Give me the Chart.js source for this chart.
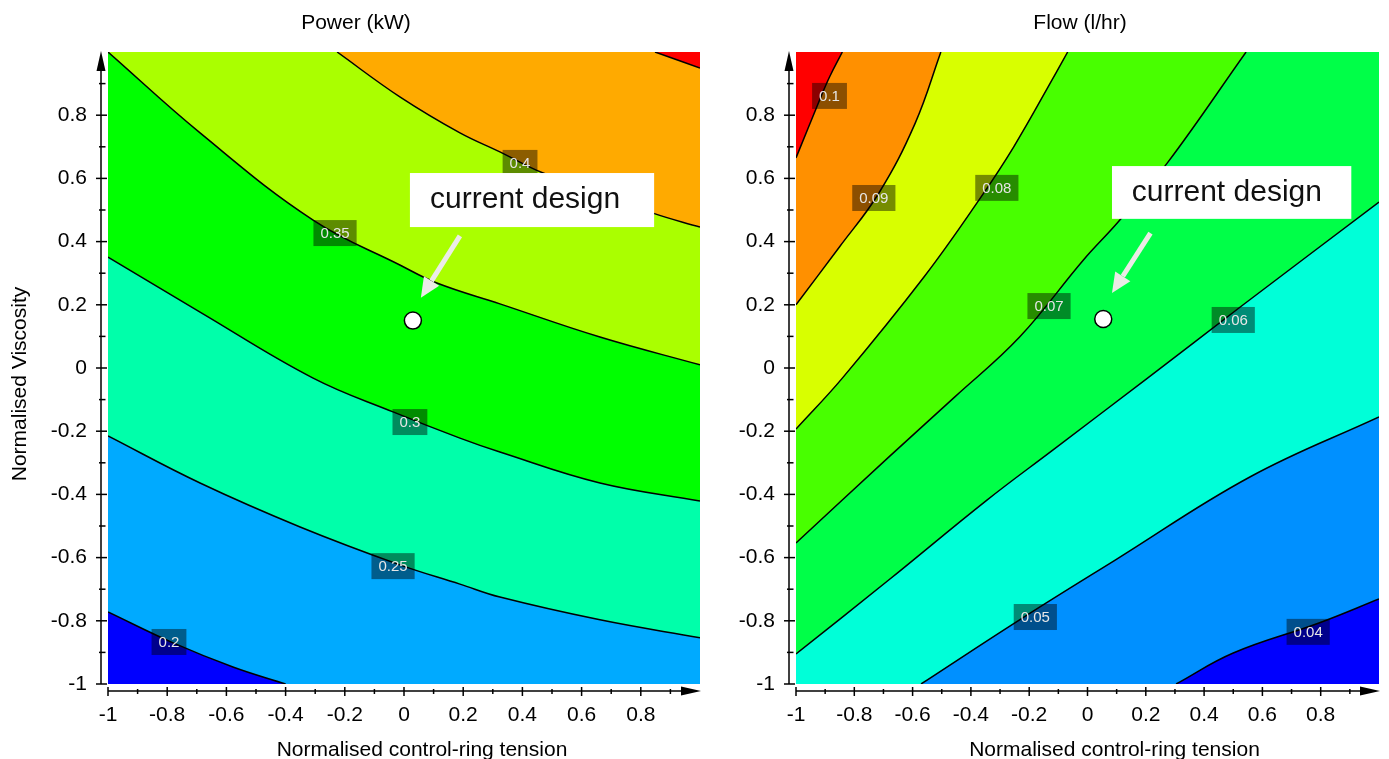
<!DOCTYPE html>
<html>
<head>
<meta charset="utf-8">
<title>Power / Flow contour maps</title>
<script src="https://cdn.jsdelivr.net/npm/chart.js@4.4.1/dist/chart.umd.min.js"></script>
<style>
    html, body { margin: 0; padding: 0; background: #fff; overflow: hidden; }
    .panel { position: absolute; top: 0; height: 759px; }
    #powerPanel { left: 0; width: 710px; }
    #flowPanel { left: 710px; width: 679px; }
</style>
</head>
<body>
<div class="panel" id="powerPanel"><canvas id="powerChart"></canvas></div>
<div class="panel" id="flowPanel"><canvas id="flowChart"></canvas></div>
<script>
"use strict";

const FONT_FAMILY = "'Liberation Sans', Arial, Helvetica, sans-serif";

/* axis ticks (both axes, both panels) */
const axisTicks = [-1, -0.8, -0.6, -0.4, -0.2, 0, 0.2, 0.4, 0.6, 0.8];
const axisMinorTicks = [-0.9, -0.7, -0.5, -0.3, -0.1, 0.1, 0.3, 0.5, 0.7, 0.9];

/* Power (kW): contour lines, [control-ring tension, viscosity] */
const power020 = [[-1, -0.772], [-0.78, -0.87], [-0.578, -0.946], [-0.4, -1]];
const power025 = [[-1, -0.215], [-0.689, -0.364], [-0.351, -0.503], [-0.014, -0.623], [0.189, -0.684], [0.324, -0.725], [0.662, -0.797], [1, -0.854]];
const power030 = [[-1, 0.351], [-0.689, 0.177], [-0.307, -0.032], [-0.037, -0.139], [0.189, -0.222], [0.324, -0.266], [0.662, -0.364], [1, -0.421]];
const power035 = [[-1, 1], [-0.689, 0.744], [-0.307, 0.468], [-0.014, 0.326], [0.111, 0.269], [0.324, 0.203], [0.662, 0.098], [1, 0.01]];
const power040 = [[-0.226, 1], [-0.014, 0.858], [0.189, 0.744], [0.324, 0.684], [0.47, 0.617], [0.841, 0.49], [1, 0.446]];
const power045 = [[0.848, 1], [1, 0.949]];
const powerLabelText = ["0.2", "0.25", "0.3", "0.35", "0.4"];
const powerLabelX = [-0.794, -0.037, 0.02, -0.233, 0.392];
const powerLabelY = [-0.867, -0.627, -0.171, 0.427, 0.649];
const powerDesign = [0.03, 0.15];

/* Flow (l/hr): contour lines */
const flow004 = [[0.304, -1], [0.5, -0.902], [0.794, -0.807], [1, -0.731]];
const flow005 = [[-0.571, -1], [-0.233, -0.797], [0.095, -0.608], [0.557, -0.345], [1, -0.155]];
const flow006 = [[-1, -0.905], [-0.682, -0.671], [-0.345, -0.418], [-0.118, -0.259], [0.206, -0.032], [0.524, 0.193], [1, 0.525]];
const flow007 = [[-1, -0.554], [-0.682, -0.282], [-0.456, -0.092], [-0.233, 0.098], [-0.014, 0.342], [0.105, 0.462], [0.274, 0.649], [0.544, 1]];
const flow008 = [[-1, -0.193], [-0.841, -0.032], [-0.561, 0.288], [-0.372, 0.532], [-0.253, 0.7], [-0.108, 0.934], [-0.068, 1]];
const flow009 = [[-1, 0.2], [-0.851, 0.383], [-0.716, 0.553], [-0.591, 0.775], [-0.503, 1]];
const flow010 = [[-1, 0.665], [-0.919, 0.848], [-0.885, 0.921], [-0.841, 1]];
const flowLabelText = ["0.04", "0.05", "0.06", "0.07", "0.08", "0.09", "0.1"];
const flowLabelX = [0.757, -0.179, 0.5, -0.132, -0.311, -0.733, -0.885];
const flowLabelY = [-0.835, -0.788, 0.152, 0.196, 0.57, 0.538, 0.861];
const flowDesign = [0.054, 0.155];

Chart.defaults.font.family = FONT_FAMILY;
Chart.defaults.color = "#000";

function formatTick(value) {
    return String(Math.round(value * 10) / 10);
}

/** contour line; its fill paints the band on one side of it */
function contourDataset(points, fillTarget, color) {
    return {
        data: points.map((p) => ({ x: p[0], y: p[1] })),
        borderColor: "#000",
        borderWidth: 1.5,
        backgroundColor: color,
        fill: fillTarget,
        pointRadius: 0,
        tension: 0.4,
    };
}

function designDataset(pt) {
    return {
        data: [{ x: pt[0], y: pt[1] }],
        showLine: false,
        fill: false,
        pointRadius: 8.5,
        pointBackgroundColor: "#fff",
        pointBorderColor: "#000",
        pointBorderWidth: 1.5,
    };
}

/** band colour under every contour */
function bandBackgroundPlugin(color) {
    return {
        id: "bandBackground",
        beforeDraw(chart) {
            const { ctx, chartArea: a } = chart;
            ctx.save();
            ctx.fillStyle = color;
            ctx.fillRect(a.left, a.top, a.right - a.left, a.bottom - a.top);
            ctx.restore();
        }
    };
}

/** dark boxes with the level value on each contour */
function contourLabelPlugin(texts, xs, ys) {
    return {
        id: "contourLabels",
        afterDatasetsDraw(chart) {
            const { ctx, scales } = chart;
            ctx.save();
            ctx.font = `15px ${FONT_FAMILY}`;
            ctx.textAlign = "center";
            ctx.textBaseline = "middle";
            texts.forEach((t, i) => {
                const px = scales.x.getPixelForValue(xs[i]);
                const py = scales.y.getPixelForValue(ys[i]);
                const w = ctx.measureText(t).width + 14;
                const h = 26;
                ctx.fillStyle = "rgba(0,0,0,0.45)";
                ctx.fillRect(px - w / 2, py - h / 2, w, h);
                ctx.fillStyle = "#e6e6e6";
                ctx.fillText(t, px, py + 1);
            });
            ctx.restore();
        }
    };
}

/** "current design" box and arrow */
function calloutPlugin(spec) {
    return {
        id: "designCallout",
        afterDatasetsDraw(chart) {
            const { ctx, scales: { x, y } } = chart;
            const left = x.getPixelForValue(spec.box[0]);
            const top = y.getPixelForValue(spec.box[1]);
            const right = x.getPixelForValue(spec.box[2]);
            const bottom = y.getPixelForValue(spec.box[3]);
            ctx.save();
            ctx.fillStyle = "#fff";
            ctx.fillRect(left, top, right - left, bottom - top);
            ctx.fillStyle = "#111";
            ctx.font = `30px ${FONT_FAMILY}`;
            ctx.textAlign = "left";
            ctx.textBaseline = "middle";
            ctx.fillText("current design", x.getPixelForValue(spec.textX), y.getPixelForValue(spec.textY));

            const sx = x.getPixelForValue(spec.arrow[0]);
            const sy = y.getPixelForValue(spec.arrow[1]);
            const ex = x.getPixelForValue(spec.arrow[2]);
            const ey = y.getPixelForValue(spec.arrow[3]);
            const ang = Math.atan2(ey - sy, ex - sx);
            const head = 20;
            const half = 9;
            const hx = ex - head * Math.cos(ang);
            const hy = ey - head * Math.sin(ang);
            ctx.strokeStyle = "#ecebe6";
            ctx.fillStyle = "#ecebe6";
            ctx.lineWidth = 5;
            ctx.beginPath();
            ctx.moveTo(sx, sy);
            ctx.lineTo(hx, hy);
            ctx.stroke();
            ctx.beginPath();
            ctx.moveTo(ex, ey);
            ctx.lineTo(hx + half * Math.sin(ang), hy - half * Math.cos(ang));
            ctx.lineTo(hx - half * Math.sin(ang), hy + half * Math.cos(ang));
            ctx.closePath();
            ctx.fill();
            ctx.restore();
        }
    };
}

/** panel title, offset axis lines with arrow heads, cross ticks and axis titles */
function axisPlugin(spec) {
    return {
        id: "axisDecor",
        afterDraw(chart) {
            const { ctx, chartArea: a, scales } = chart;
            const ax = a.left - 7;
            const ay = a.bottom + 7;
            const seg = (x0, y0, x1, y1) => {
                ctx.beginPath();
                ctx.moveTo(x0, y0);
                ctx.lineTo(x1, y1);
                ctx.stroke();
            };
            ctx.save();
            ctx.strokeStyle = "#000";
            ctx.fillStyle = "#000";
            ctx.lineWidth = 1.5;

            seg(ax, a.bottom, ax, a.top + 16);
            ctx.beginPath();
            ctx.moveTo(ax, a.top - 1);
            ctx.lineTo(ax - 4.5, a.top + 19);
            ctx.lineTo(ax + 4.5, a.top + 19);
            ctx.closePath();
            ctx.fill();

            seg(a.left, ay, a.right - 16, ay);
            ctx.beginPath();
            ctx.moveTo(a.right + 1, ay);
            ctx.lineTo(a.right - 19, ay - 4.5);
            ctx.lineTo(a.right - 19, ay + 4.5);
            ctx.closePath();
            ctx.fill();

            axisTicks.forEach((v) => {
                const py = scales.y.getPixelForValue(v);
                seg(ax - 5, py, ax + 6, py);
                const px = scales.x.getPixelForValue(v);
                seg(px, ay - 4, px, ay + 5);
            });
            axisMinorTicks.forEach((v) => {
                const py = scales.y.getPixelForValue(v);
                seg(ax - 2, py, ax + 4.5, py);
                const px = scales.x.getPixelForValue(v);
                seg(px, ay - 2, px, ay + 3);
            });

            ctx.font = `21px ${FONT_FAMILY}`;
            ctx.textAlign = "center";
            ctx.textBaseline = "middle";
            ctx.fillText(spec.title, spec.titleX, 23);
            ctx.fillText(spec.xTitle, (a.left + a.right) / 2 + spec.xTitleShift, a.bottom + 66);
            if (spec.yTitle) {
                ctx.translate(spec.yTitleX, (a.top + a.bottom) / 2 + spec.yTitleShift);
                ctx.rotate(-Math.PI / 2);
                ctx.fillText(spec.yTitle, 0, 0);
            }
            ctx.restore();
        }
    };
}

function buildContourChart(canvasId, spec) {
    const tickFont = { size: 21 };
    return new Chart(document.getElementById(canvasId).getContext("2d"), {
        type: "line",
        data: { datasets: spec.datasets },
        options: {
            responsive: true,
            maintainAspectRatio: false,
            animation: false,
            events: [],
            layout: { padding: { left: 0, right: spec.padRight, top: 52, bottom: 0 } },
            plugins: {
                legend: { display: false },
                tooltip: { enabled: false },
                title: { display: false }
            },
            scales: {
                x: {
                    type: "linear",
                    min: -1,
                    max: 1,
                    grid: { display: false, drawTicks: false },
                    border: { display: false },
                    afterBuildTicks: (s) => { s.ticks = axisTicks.map((v) => ({ value: v })); },
                    afterFit: (s) => { s.height = 75; },
                    ticks: { padding: 19, autoSkip: false, maxRotation: 0, color: "#000", font: tickFont, callback: formatTick }
                },
                y: {
                    type: "linear",
                    min: -1,
                    max: 1,
                    grid: { display: false, drawTicks: false },
                    border: { display: false },
                    afterBuildTicks: (s) => { s.ticks = axisTicks.map((v) => ({ value: v })); },
                    afterFit: (s) => { s.width = spec.yWidth; },
                    ticks: { padding: 21, autoSkip: false, color: "#000", font: tickFont, callback: formatTick }
                }
            }
        },
        plugins: [
            bandBackgroundPlugin(spec.background),
            contourLabelPlugin(spec.labelText, spec.labelX, spec.labelY),
            calloutPlugin(spec.callout),
            axisPlugin(spec.axes)
        ]
    });
}

/* fills are painted last dataset first, so higher levels go first in each list */
buildContourChart("powerChart", {
    padRight: 9,
    yWidth: 108,
    background: "#00ffaa",
    datasets: [
        designDataset(powerDesign),
        contourDataset(power045, "end", "#ff0000"),
        contourDataset(power040, "end", "#ffaa00"),
        contourDataset(power035, "end", "#aaff00"),
        contourDataset(power030, "end", "#00ff00"),
        contourDataset(power020, "start", "#0000ff"),
        contourDataset(power025, "start", "#00aaff"),
    ],
    labelText: powerLabelText,
    labelX: powerLabelX,
    labelY: powerLabelY,
    callout: { box: [0.02, 0.617, 0.845, 0.446], textX: 0.088, textY: 0.532, arrow: [0.189, 0.418, 0.057, 0.222] },
    axes: {
        title: "Power (kW)", titleX: 356,
        xTitle: "Normalised control-ring tension", xTitleShift: 18,
        yTitle: "Normalised Viscosity", yTitleX: 20, yTitleShift: 16
    }
});

buildContourChart("flowChart", {
    padRight: 1,
    yWidth: 86,
    background: "#00ffd8",
    datasets: [
        designDataset(flowDesign),
        contourDataset(flow010, "end", "#ff0000"),
        contourDataset(flow009, "end", "#ff9000"),
        contourDataset(flow008, "end", "#d8ff00"),
        contourDataset(flow007, "end", "#48ff00"),
        contourDataset(flow006, "end", "#00ff48"),
        contourDataset(flow004, "start", "#0000ff"),
        contourDataset(flow005, "start", "#0090ff"),
    ],
    labelText: flowLabelText,
    labelX: flowLabelX,
    labelY: flowLabelY,
    callout: { box: [0.084, 0.639, 0.905, 0.472], textX: 0.152, textY: 0.555, arrow: [0.216, 0.427, 0.084, 0.237] },
    axes: {
        title: "Flow (l/hr)", titleX: 370,
        xTitle: "Normalised control-ring tension", xTitleShift: 27
    }
});
</script>
</body>
</html>
